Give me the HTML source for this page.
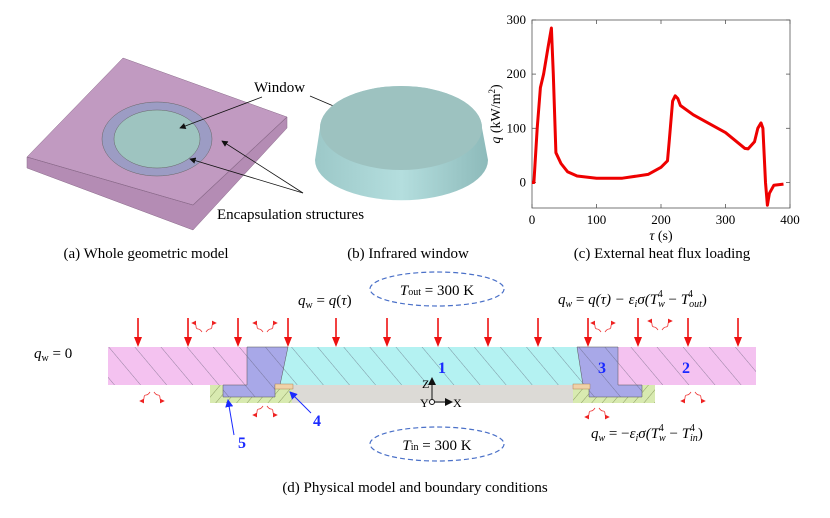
<!DOCTYPE html>
<html><head><meta charset="utf-8"><style>
body{margin:0;background:#fff;}
svg{display:block;font-family:"Liberation Serif",serif;}
</style></head><body>
<svg width="830" height="518" viewBox="0 0 830 518">
<defs>
<pattern id="hatch" width="20" height="20" patternUnits="userSpaceOnUse" patternTransform="rotate(-40)">
<line x1="0" y1="0" x2="0" y2="20" stroke="#55556a" stroke-width="0.8"/></pattern>
<pattern id="hatch3" width="8" height="8" patternUnits="userSpaceOnUse" patternTransform="rotate(40)">
<line x1="0" y1="0" x2="0" y2="8" stroke="#6a7a40" stroke-width="0.7"/></pattern>
<marker id="ar" markerWidth="8" markerHeight="8" refX="7" refY="4" orient="auto"><path d="M0,0L8,4L0,8z" fill="#111"/></marker>
<marker id="arb" markerWidth="8" markerHeight="8" refX="7" refY="4" orient="auto"><path d="M0,0L8,4L0,8z" fill="#1a2aff"/></marker>
<marker id="arr" markerWidth="6" markerHeight="6" refX="5" refY="3" orient="auto"><path d="M0,0L6,3L0,6z" fill="#e22"/></marker>
<linearGradient id="side" x1="0" x2="1"><stop offset="0" stop-color="#9cc8c8"/><stop offset="0.5" stop-color="#b4dede"/><stop offset="1" stop-color="#8dbaba"/></linearGradient>
</defs>

<!-- (a) -->
<g>
<polygon points="27,157 27,168 193,230 287,128 287,117 193,205" fill="#b48cb4" stroke="#8a6a8a" stroke-width="0.5"/>
<polygon points="27,157 123,58 287,117 193,205" fill="#c19ac1" stroke="#8a6a8a" stroke-width="0.5"/>
<line x1="27" y1="157" x2="193" y2="205" stroke="#8a6a8a" stroke-width="0.6"/>
<line x1="193" y1="205" x2="287" y2="117" stroke="#8a6a8a" stroke-width="0.6"/>
<ellipse cx="157" cy="139" rx="55" ry="37" fill="#9c9cc4" stroke="#666" stroke-width="0.5"/>
<ellipse cx="157" cy="139" rx="43" ry="29" fill="#9ec4c0" stroke="#666" stroke-width="0.5"/>
<text x="254" y="92" font-size="15">Window</text>
<line x1="262" y1="97" x2="180" y2="128" stroke="#111" stroke-width="0.8" marker-end="url(#ar)"/>
<line x1="310" y1="96" x2="385" y2="128" stroke="#111" stroke-width="0.8" marker-end="url(#ar)"/>
<line x1="303" y1="193" x2="190" y2="159" stroke="#111" stroke-width="0.8" marker-end="url(#ar)"/>
<line x1="303" y1="193" x2="222" y2="141" stroke="#111" stroke-width="0.8" marker-end="url(#ar)"/>
<text x="217" y="219" font-size="15">Encapsulation structures</text>
<text x="146" y="258" font-size="15" text-anchor="middle">(a) Whole geometric model</text>
</g>

<!-- (b) -->
<g>
<path d="M315,160 L320,128 A81,42 0 0 1 482,128 L488,160 A86,40 0 0 1 315,160 Z" fill="url(#side)"/>
<ellipse cx="401" cy="128" rx="81" ry="42" fill="#9dc2c0"/>
<text x="408" y="258" font-size="15" text-anchor="middle">(b) Infrared window</text>
</g>

<!-- (c) chart -->
<g id="chart">
<rect x="532" y="20" width="258" height="188" fill="none" stroke="#555" stroke-width="0.8"/>
<g id="ticks"></g>
<path id="line" fill="none" stroke="#ee0000" stroke-width="3" stroke-linejoin="round"/>
<text x="661" y="240" font-size="14" text-anchor="middle" font-style="italic">τ <tspan font-style="normal">(s)</tspan></text>
<text transform="translate(500,114) rotate(-90)" font-size="14" text-anchor="middle"><tspan font-style="italic">q</tspan> (kW/m<tspan font-size="9" dy="-5">2</tspan><tspan dy="5">)</tspan></text>
<text x="662" y="258" font-size="15" text-anchor="middle">(c) External heat flux loading</text>
</g>

<!-- (d) -->
<g>
<rect x="292" y="385" width="281" height="18" fill="#dcdad6"/>
<polygon points="210,385 292,385 292,403 210,403" fill="#d8eab0"/>
<polygon points="210,385 292,385 292,403 210,403" fill="url(#hatch3)"/>
<polygon points="573,385 655,385 655,403 573,403" fill="#d8eab0"/>
<polygon points="573,385 655,385 655,403 573,403" fill="url(#hatch3)"/>
<polygon points="108,347 247,347 247,385 108,385" fill="#f4c2f0"/>
<polygon points="618,347 756,347 756,385 618,385" fill="#f4c2f0"/>
<polygon points="288,347 577,347 583,385 280,385" fill="#b4f2f2"/>
<polygon points="247,347 288,347 280,385 275,385 275,397 223,397 223,385 247,385" fill="#a8a8e8" stroke="#555" stroke-width="0.5"/>
<polygon points="577,347 618,347 618,385 642,385 642,397 589,397 589,385 583,385" fill="#a8a8e8" stroke="#555" stroke-width="0.5"/>
<rect x="108" y="347" width="648" height="38" fill="url(#hatch)" opacity="0.75"/>
<rect x="223" y="385" width="52" height="12" fill="url(#hatch)" opacity="0.75"/>
<rect x="589" y="385" width="53" height="12" fill="url(#hatch)" opacity="0.75"/>
<rect x="275" y="384" width="18" height="5" fill="#f0d2a8" stroke="#a07040" stroke-width="0.4"/>
<rect x="573" y="384" width="17" height="5" fill="#f0d2a8" stroke="#a07040" stroke-width="0.4"/>
<g id="arrows"></g>
<g id="waves"></g>
<g stroke="#111" stroke-width="1">
<line x1="432" y1="402" x2="432" y2="378" marker-end="url(#ar)"/>
<line x1="432" y1="402" x2="452" y2="402" marker-end="url(#ar)"/>
<circle cx="432" cy="402" r="2.5" fill="#fff"/>
</g>
<text x="422" y="388" font-size="12">Z</text>
<text x="420" y="407" font-size="12">Y</text>
<text x="453" y="407" font-size="12">X</text>
<g font-size="16" font-weight="bold" fill="#1a2aff">
<text x="438" y="373">1</text>
<text x="598" y="373">3</text>
<text x="682" y="373">2</text>
<text x="313" y="426">4</text>
<text x="238" y="448">5</text>
</g>
<line x1="311" y1="413" x2="290" y2="392" stroke="#1a2aff" stroke-width="1" marker-end="url(#arb)"/>
<line x1="234" y1="435" x2="228" y2="400" stroke="#1a2aff" stroke-width="1" marker-end="url(#arb)"/>
<ellipse cx="437" cy="289" rx="67" ry="17" fill="none" stroke="#4a70c8" stroke-width="1.2" stroke-dasharray="5,3"/>
<text x="437" y="295" font-size="15" text-anchor="middle"><tspan font-style="italic">T</tspan><tspan font-size="10">out</tspan> = 300 K</text>
<ellipse cx="437" cy="444" rx="67" ry="17" fill="none" stroke="#4a70c8" stroke-width="1.2" stroke-dasharray="5,3"/>
<text x="437" y="450" font-size="15" text-anchor="middle"><tspan font-style="italic">T</tspan><tspan font-size="10">in</tspan> = 300 K</text>
<text x="34" y="358" font-size="15"><tspan font-style="italic">q</tspan><tspan font-size="10" dy="3">w</tspan><tspan dy="-3"> = 0</tspan></text>
<text x="298" y="305" font-size="15"><tspan font-style="italic">q</tspan><tspan font-size="10" dy="3">w</tspan><tspan dy="-3"> = </tspan><tspan font-style="italic">q</tspan>(<tspan font-style="italic">τ</tspan>)</text>
<text x="558" y="304" font-size="15" font-style="italic">q<tspan font-size="10" dy="3">w</tspan><tspan dy="-3" font-style="normal"> = </tspan>q(τ) − ε<tspan font-size="10" dy="3">i</tspan><tspan dy="-3">σ(T</tspan><tspan font-size="10" dy="3">w</tspan><tspan font-size="10" dx="-7" dy="-10" font-style="normal">4</tspan><tspan dx="2" dy="7" font-style="normal"> − </tspan>T<tspan font-size="10" dy="3">out</tspan><tspan font-size="10" dx="-14" dy="-10" font-style="normal">4</tspan><tspan dx="9" dy="7" font-style="normal">)</tspan></text>
<text x="591" y="438" font-size="15" font-style="italic">q<tspan font-size="10" dy="3">w</tspan><tspan dy="-3" font-style="normal"> = −</tspan>ε<tspan font-size="10" dy="3">i</tspan><tspan dy="-3">σ(T</tspan><tspan font-size="10" dy="3">w</tspan><tspan font-size="10" dx="-7" dy="-10" font-style="normal">4</tspan><tspan dx="2" dy="7" font-style="normal"> − </tspan>T<tspan font-size="10" dy="3">in</tspan><tspan font-size="10" dx="-8" dy="-10" font-style="normal">4</tspan><tspan dx="3" dy="7" font-style="normal">)</tspan></text>
<text x="415" y="492" font-size="15" text-anchor="middle">(d) Physical model and boundary conditions</text>
</g>
</svg>
<script>
const xTicks=[0,100,200,300,400];
const yTicks=[0,100,200,300];
const timeS=[0,3,8,13,18,25,30,33,37,45,55,70,100,140,180,200,210,213,218,222,226,230,250,300,330,335,345,350,355,358,362,365,368,375,390];
const fluxKW=[0,0,100,175,200,250,285,200,55,35,20,12,8,8,15,28,40,80,150,160,155,142,125,92,63,62,75,100,110,100,0,-42,-20,-5,-3];
const arrowXs=[138,188,238,288,336,387,438,488,538,588,638,688,738];
const NS='http://www.w3.org/2000/svg';
function sx(v){return 532+v*(258/400);}
function sy(v){return 182.5-v*0.542;}
const tk=document.getElementById('ticks');
function mk(tag,attrs,parent){const e=document.createElementNS(NS,tag);for(const k in attrs)e.setAttribute(k,attrs[k]);parent.appendChild(e);return e;}
xTicks.forEach(v=>{
 mk('line',{x1:sx(v),x2:sx(v),y1:208,y2:204,stroke:'#555','stroke-width':0.8},tk);
 mk('line',{x1:sx(v),x2:sx(v),y1:20,y2:24,stroke:'#555','stroke-width':0.8},tk);
 const t=mk('text',{x:sx(v),y:224,'font-size':13,'text-anchor':'middle'},tk);t.textContent=v;
 
 
});
yTicks.forEach(v=>{
 mk('line',{x1:532,x2:536,y1:sy(v),y2:sy(v),stroke:'#555','stroke-width':0.8},tk);
 mk('line',{x1:790,x2:786,y1:sy(v),y2:sy(v),stroke:'#555','stroke-width':0.8},tk);
 const t=mk('text',{x:526,y:sy(v)+4,'font-size':13,'text-anchor':'end'},tk);t.textContent=v;
 
 
});
document.getElementById('line').setAttribute('d',timeS.map((t,i)=>(i?'L':'M')+sx(t).toFixed(1)+','+sy(fluxKW[i]).toFixed(1)).join(''));
const ag=document.getElementById('arrows');
arrowXs.forEach(x=>{
 const a=mk('g',{},ag);
 
 
 mk('line',{x1:x,x2:x,y1:318,y2:338,stroke:'#ee1111','stroke-width':1.6},a);
 mk('path',{d:`M${x-4},337L${x+4},337L${x},347z`,fill:'#ee1111'},a);
});
const wg=document.getElementById('waves');
[[204,332,-1],[265,332,-1],[603,332,-1],[660,330,-1],[152,392,1],[265,406,1],[597,408,1],[693,392,1]].forEach(([x,y,d])=>{
 const w=mk('g',{stroke:'#e33','stroke-width':0.8,fill:'none'},wg);
 
 
 mk('path',{d:`M${x-2},${y}q-2,${3*d} -4,${3*d} t-2,${3*d} t-4,${3*d}`,'marker-end':'url(#arr)'},w);
 mk('path',{d:`M${x+2},${y}q2,${3*d} 4,${3*d} t2,${3*d} t4,${3*d}`,'marker-end':'url(#arr)'},w);
});
</script>
</body></html>
